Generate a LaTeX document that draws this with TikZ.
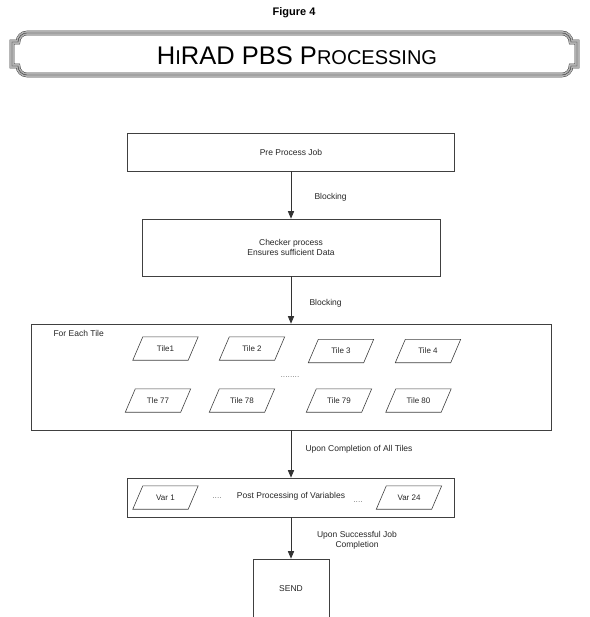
\documentclass[tikz,border=0pt]{standalone}
\usepackage{fontspec}
\setmainfont{Liberation Sans}
\usepackage{tikz}
\usetikzlibrary{shapes,arrows}

\begin{document}
\begin{tikzpicture}[x=1pt, y=-1pt,
   every node/.style={text=black!85, font=\fontsize{8.5}{10}\selectfont},
   procbox/.style={draw=black!75, line width=0.7pt, rectangle, inner sep=0pt, align=center},
   tileline/.style={draw=black!75, line width=0.6pt},
   tilebox/.style={rectangle, minimum width=55pt, minimum height=23pt, inner sep=0pt,
      font=\fontsize{8}{9.5}\selectfont,
      append after command={\pgfextra{\draw[tileline]
         ([xshift=5pt]\tikzlastnode.north west) -- ([xshift=5pt]\tikzlastnode.north east)
         -- ([xshift=-5pt]\tikzlastnode.south east) -- ([xshift=-5pt]\tikzlastnode.south west)
         -- cycle;}}},
   flow/.style={draw=black!80, line width=0.7pt, -triangle 45}]
   \clip (0,0) rectangle (589,617);
   % title banner
   \node[font=\fontsize{11}{13}\selectfont\bfseries, text=black] (fig) at (294,13) {Figure 4};
   \def\bannerpath{(12,42) -- (18,42) .. controls (18,37) and (22,33) .. (27,33)
      -- (562,33) .. controls (567,33) and (571,37) .. (571,42) -- (577,42) -- (577,66)
      -- (571,66) .. controls (571,71) and (567,75) .. (562,75) -- (27,75)
      .. controls (22,75) and (18,71) .. (18,66) -- (12,66) -- cycle}
   \draw[line width=4.6pt, black!80] \bannerpath;
   \draw[line width=3.8pt, black!30] \bannerpath;
   \draw[line width=0.4pt, black!80] \bannerpath;
   \node[text=black] (title) at (297,56)
      {\fontsize{25.5}{28}\selectfont H\fontsize{20}{22}\selectfont I\fontsize{25.5}{28}\selectfont RAD PBS
       P\fontsize{20}{22}\selectfont ROCESSING};
   % process boxes
   \node[procbox, minimum width=327pt, minimum height=38pt] (pre) at (291,152) {Pre Process Job};
   \node[procbox, minimum width=298pt, minimum height=57pt] (checker) at (291,247.5)
      {Checker process\\Ensures sufficient Data};
   \node[procbox, minimum width=520pt, minimum height=106pt] (tiles) at (291,377) {};
   \node[right] (each) at (50,333) {For Each Tile};
   \node[tilebox] (t1) at (165.5,348.5) {Tile1};
   \node[tilebox] (t2) at (252,348.5) {Tile 2};
   \node[tilebox] (t3) at (341,351) {Tile 3};
   \node[tilebox] (t4) at (428,351) {Tile 4};
   \node[text=black!50] (tdots) at (290,377) {........};
   \node[tilebox] (t77) at (158,400.5) {Tle 77};
   \node[tilebox] (t78) at (242,400.5) {Tile 78};
   \node[tilebox] (t79) at (339,400.5) {Tile 79};
   \node[tilebox] (t80) at (418.5,400.5) {Tile 80};
   \node[procbox, minimum width=327pt, minimum height=39pt] (post) at (291,497.5) {};
   \node (postlbl) at (291,496) {Post Processing of Variables};
   \node[tilebox] (v1) at (165.5,497.5) {Var 1};
   \node[tilebox] (v24) at (409,497.5) {Var 24};
   \node[text=black!50] (vdots1) at (217,498) {....};
   \node[text=black!50] (vdots2) at (358,502) {....};
   \node[procbox, minimum width=76pt, minimum height=60pt] (send) at (291,589) {SEND};
   % connectors
   \draw[flow] (pre) -- (checker);
   \draw[flow] (checker) -- (tiles);
   \draw[flow] (tiles) -- (post);
   \draw[flow] (post) -- (send);
   \node[right] (blk1) at (311,197) {Blocking};
   \node[right] (blk2) at (306,303) {Blocking};
   \node[right] (alltiles) at (302,449) {Upon Completion of All Tiles};
   \node[align=center] (success) at (357,540) {Upon Successful Job\\Completion};
\end{tikzpicture}
\end{document}
